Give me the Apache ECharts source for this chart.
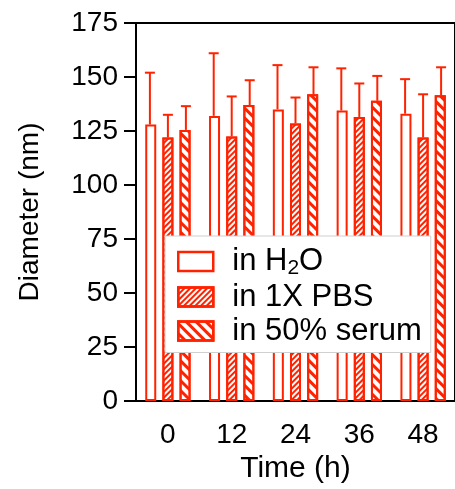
<!DOCTYPE html>
<html>
<head>
<meta charset="utf-8">
<script src="https://cdn.jsdelivr.net/npm/echarts@6/dist/echarts.min.js"></script>
<style>html,body{margin:0;padding:0;background:#fff}#c{width:455px;height:489px}</style>
</head>
<body>
<div id="c"></div>
<script>
const categories = ['0', '12', '24', '36', '48'];
const yTicks = [0, 25, 50, 75, 100, 125, 150, 175];
const seriesNames = ['in H2O', 'in 1X PBS', 'in 50% serum'];
const h2oMean = [128, 132, 135, 134.5, 133];
const h2oSD = [24, 29, 20.5, 19.5, 16];
const pbsMean = [122, 122.5, 128.5, 131.5, 122];
const pbsSD = [10.5, 18.5, 12, 15.5, 20];
const serumMean = [125.5, 137, 142, 139, 141.5];
const serumSD = [11, 11.5, 12.5, 11.5, 13];

const RED = '#FF2200';
const FONT = 'Liberation Sans';
const means = [h2oMean, pbsMean, serumMean];
const sds = [h2oSD, pbsSD, serumSD];
const offsets = [-18, 0, 18];
const decals = [
  null,
  { symbol: 'rect', symbolSize: 1, color: RED, dashArrayX: [1, 0], dashArrayY: [1.5, 2], rotation: -Math.PI / 4 },
  { symbol: 'rect', symbolSize: 1, color: RED, dashArrayX: [1, 0], dashArrayY: [3, 3.5], rotation: Math.PI / 4 }
];

const series = [];
seriesNames.forEach((name, i) => {
  const s = {
    name: name, type: 'bar', data: means[i], barWidth: 11, barGap: '56%',
    itemStyle: { color: '#fff', borderColor: RED, borderWidth: 2 },
    z: 2
  };
  if (decals[i]) s.itemStyle.decal = decals[i];
  series.push(s);
});
seriesNames.forEach((name, i) => {
  series.push({
    type: 'custom', z: 3, silent: true,
    data: means[i].map((m, k) => [k, m, sds[i][k]]),
    encode: { x: 0, y: 1 },
    renderItem: function (params, api) {
      const k = api.value(0), m = api.value(1), sd = api.value(2);
      const p0 = api.coord([k, m]);
      const p1 = api.coord([k, m + sd]);
      const x = p0[0] + offsets[i];
      const st = { stroke: RED, lineWidth: 2 };
      return {
        type: 'group', children: [
          { type: 'line', shape: { x1: x, y1: p0[1], x2: x, y2: p1[1] }, style: st },
          { type: 'line', shape: { x1: x - 5, y1: p1[1], x2: x + 5, y2: p1[1] }, style: st }
        ]
      };
    }
  });
});

const chart = echarts.init(document.getElementById('c'));
chart.setOption({
  animation: false,
  backgroundColor: '#fff',
  grid: { left: 136, top: 23, right: -8, bottom: 86, show: true, borderColor: '#000', borderWidth: 2, backgroundColor: 'transparent' },
  legend: {
    data: seriesNames, orient: 'vertical', left: 165, top: 236,
    backgroundColor: '#fff', borderColor: '#d0d0d0', borderWidth: 1,
    padding: [10, 9, 6, 12], itemWidth: 35, itemHeight: 19, itemGap: 3,
    icon: 'rect',
    itemStyle: { borderWidth: 2.5 },
    textStyle: { fontFamily: FONT, fontSize: 31, color: '#000', padding: [0, 0, 0, 14],
      rich: { sub: { fontFamily: FONT, fontSize: 21, color: '#000', padding: [13, 0, 0, 0] } } },
    formatter: function (n) { return n === 'in H2O' ? 'in H{sub|2}O' : n; }
  },
  xAxis: {
    type: 'category', data: categories,
    name: 'Time (h)', nameLocation: 'middle', nameGap: 53,
    nameTextStyle: { fontFamily: FONT, fontSize: 30, color: '#000' },
    axisLine: { lineStyle: { color: '#000', width: 2 } },
    axisTick: { alignWithLabel: true, length: 12, lineStyle: { width: 2, color: '#000' } },
    axisLabel: { fontFamily: FONT, fontSize: 28, color: '#000', margin: 20 }
  },
  yAxis: {
    type: 'value', min: 0, max: 175, interval: 25,
    name: 'Diameter (nm)', nameLocation: 'middle', nameGap: 92,
    nameTextStyle: { fontFamily: FONT, fontSize: 28, color: '#000' },
    axisLine: { show: true, lineStyle: { color: '#000', width: 2 } },
    axisTick: { show: true, length: 12, lineStyle: { width: 2, color: '#000' } },
    axisLabel: { fontFamily: FONT, fontSize: 28, color: '#000', margin: 18,
      formatter: function (v) { return yTicks.indexOf(v) >= 0 ? String(v) : ''; } },
    splitLine: { show: false }
  },
  series: series
});
</script>
</body>
</html>
